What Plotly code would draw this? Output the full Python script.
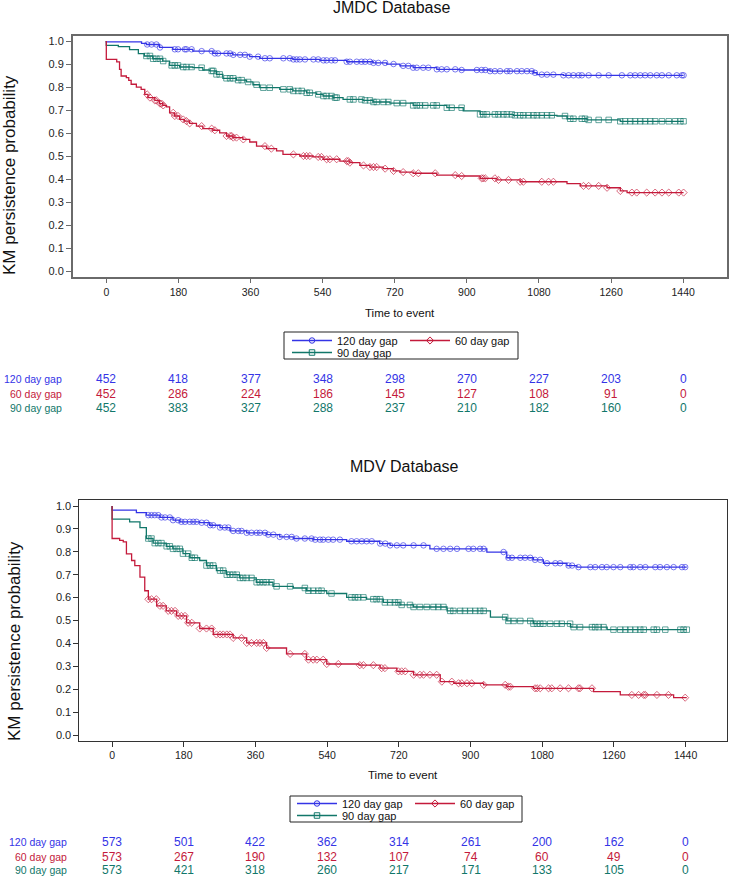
import numpy as np
import plotly.graph_objects as go

W, H = 733, 877

# ---------------- data ----------------
x_ticks = [0, 180, 360, 540, 720, 900, 1080, 1260, 1440]
y_ticks = [0.0, 0.1, 0.2, 0.3, 0.4, 0.5, 0.6, 0.7, 0.8, 0.9, 1.0]
series_names = ["120 day gap", "60 day gap", "90 day gap"]

# JMDC database: KM step curves (time in days, survival after step)
jmdc_120_t = [0, 0, 88, 100, 133, 166, 216, 266, 316, 358, 383, 466, 533, 600, 666, 700, 733, 766, 825, 883, 958, 1066, 1075, 1141, 1441]
jmdc_120_s = [1.0, 0.996, 0.990, 0.985, 0.972, 0.964, 0.956, 0.946, 0.940, 0.932, 0.925, 0.920, 0.916, 0.910, 0.905, 0.900, 0.892, 0.884, 0.877, 0.874, 0.869, 0.862, 0.854, 0.851, 0.851]
jmdc_120_cens = [102, 113, 125, 134, 171, 179, 196, 200, 213, 238, 263, 271, 279, 300, 309, 317, 334, 346, 358, 379, 396, 408, 442, 458, 467, 475, 483, 496, 517, 529, 542, 550, 562, 571, 600, 608, 625, 637, 646, 658, 667, 679, 696, 717,
                 741, 754, 766, 775, 791, 804, 825, 837, 850, 871, 887, 925, 937, 946, 958, 970, 983, 1000, 1008, 1025, 1037, 1050, 1062, 1070, 1087, 1100, 1116, 1141, 1154, 1166, 1179, 1187, 1204, 1229, 1254, 1287, 1308, 1320, 1333, 1345, 1358, 1374, 1387, 1404, 1424, 1437, 1441]

jmdc_60_t = [0, 0, 26, 33, 37, 50, 56, 62, 75, 87, 96, 104, 121, 133, 141, 150, 158, 170, 183, 195, 208, 225, 241, 266, 283, 300, 316, 341, 358, 375, 400, 425, 441, 483, 516, 541, 583, 608, 633, 658, 691, 716, 733, 766, 825, 875, 933, 975, 1033, 1150, 1183, 1250, 1283, 1300, 1441]
jmdc_60_s = [1.0, 0.92, 0.909, 0.877, 0.848, 0.841, 0.829, 0.812, 0.80, 0.79, 0.768, 0.754, 0.742, 0.728, 0.72, 0.714, 0.688, 0.674, 0.659, 0.652, 0.642, 0.63, 0.619, 0.612, 0.601, 0.587, 0.58, 0.572, 0.561, 0.543, 0.532, 0.522, 0.507, 0.50, 0.496, 0.486, 0.478, 0.471, 0.459, 0.452, 0.445, 0.435, 0.43, 0.425, 0.417, 0.413, 0.403, 0.396, 0.388, 0.38, 0.37, 0.362, 0.348, 0.341, 0.341]
jmdc_60_cens = [102, 109, 121, 125, 134, 138, 142, 167, 171, 179, 192, 200, 208, 238, 263, 271, 300, 309, 313, 317, 325, 342, 396, 412, 467, 492, 500, 508, 529, 537, 550, 558, 575, 600, 604, 608, 642, 658, 667, 675, 696, 717,
                741, 766, 779, 821, 871, 887, 937, 941, 946, 970, 979, 1004, 1033, 1041, 1087, 1104, 1116, 1191, 1204, 1229, 1250, 1283, 1312, 1324, 1349, 1370, 1387, 1404, 1429, 1441]

jmdc_90_t = [0, 0, 30, 58, 80, 95, 116, 141, 158, 183, 216, 241, 258, 275, 291, 325, 350, 366, 383, 433, 466, 500, 525, 541, 566, 591, 641, 666, 708, 766, 850, 891, 933, 1016, 1125, 1150, 1200, 1283, 1441]
jmdc_90_s = [1.0, 0.981, 0.976, 0.963, 0.945, 0.935, 0.923, 0.913, 0.894, 0.887, 0.884, 0.874, 0.87, 0.855, 0.838, 0.83, 0.822, 0.81, 0.797, 0.79, 0.783, 0.775, 0.768, 0.761, 0.754, 0.746, 0.742, 0.735, 0.73, 0.72, 0.71, 0.696, 0.681, 0.677, 0.674, 0.662, 0.657, 0.651, 0.651]
jmdc_90_cens = [100, 109, 117, 125, 134, 142, 163, 171, 179, 192, 200, 213, 238, 263, 267, 275, 283, 300, 309, 317, 329, 338, 354, 375, 392, 408, 442, 458, 467, 479, 488, 500, 508, 529, 542, 550, 562, 571, 575, 608, 617, 637, 646, 658, 667, 675, 692, 704, 725,
                741, 766, 775, 783, 796, 816, 825, 850, 862, 887, 933, 941, 950, 970, 979, 991, 1000, 1012, 1020, 1033, 1041, 1054, 1066, 1075, 1087, 1100, 1112, 1145, 1158, 1166, 1187, 1195, 1204, 1229, 1254, 1283, 1295, 1308, 1320, 1333, 1345, 1358, 1370, 1387, 1404, 1420, 1433, 1441]

# MDV database
mdv_120_t = [0, 0, 61, 86, 120, 153, 170, 220, 245, 271, 296, 338, 388, 421, 455, 505, 589, 672, 698, 798, 941, 991, 1058, 1083, 1142, 1167, 1443]
mdv_120_s = [1.0, 0.982, 0.971, 0.96, 0.95, 0.938, 0.931, 0.927, 0.916, 0.906, 0.891, 0.883, 0.875, 0.865, 0.858, 0.853, 0.846, 0.836, 0.828, 0.813, 0.799, 0.774, 0.765, 0.75, 0.74, 0.733, 0.733]
mdv_120_cens = [91, 99, 107, 116, 124, 133, 145, 153, 166, 174, 183, 195, 204, 212, 225, 237, 246, 254, 271, 283, 292, 304, 317, 325, 338, 350, 363, 371, 384, 392, 405, 421, 438, 451, 463, 484, 501, 510, 522, 530, 543, 555, 572, 601, 614, 627, 639, 652, 673, 686, 698, 715,
                731, 757, 782, 815, 832, 849, 866, 895, 907, 924, 933, 983, 995, 1004, 1025, 1037, 1050, 1062, 1075, 1092, 1113, 1125, 1146, 1155, 1171, 1201, 1213, 1230, 1242, 1259, 1276, 1301, 1309, 1326, 1339, 1364, 1376, 1393, 1410, 1431, 1439]

mdv_60_t = [0, 0, 19, 28, 36, 49, 57, 70, 82, 91, 112, 136, 162, 187, 220, 254, 304, 338, 388, 438, 488, 539, 620, 673, 715, 757, 824, 858, 933, 991, 1058, 1209, 1276, 1410, 1443]
mdv_60_s = [1.0, 0.858, 0.85, 0.843, 0.791, 0.762, 0.74, 0.689, 0.63, 0.593, 0.564, 0.542, 0.52, 0.49, 0.465, 0.439, 0.424, 0.402, 0.38, 0.354, 0.329, 0.31, 0.305, 0.292, 0.278, 0.263, 0.233, 0.226, 0.219, 0.211, 0.204, 0.189, 0.175, 0.163, 0.163]
mdv_60_cens = [91, 99, 111, 120, 128, 141, 149, 158, 166, 174, 183, 191, 200, 220, 237, 250, 262, 271, 279, 288, 296, 304, 325, 338, 350, 363, 371, 380, 388, 447, 484, 493, 505, 514, 530, 539, 568, 622, 631, 656,
               677, 685, 719, 727, 736, 757, 773, 782, 798, 815, 828, 853, 870, 878, 891, 903, 933, 987, 995, 1000, 1062, 1067, 1075, 1096, 1104, 1125, 1146, 1171, 1175, 1205, 1305, 1322, 1335, 1339, 1368, 1397, 1439]

mdv_90_t = [0, 0, 44, 70, 86, 103, 136, 153, 178, 195, 220, 237, 262, 287, 320, 362, 404, 455, 488, 539, 589, 639, 681, 723, 757, 841, 950, 991, 1058, 1151, 1243, 1443]
mdv_90_s = [1.0, 0.943, 0.931, 0.906, 0.858, 0.838, 0.824, 0.813, 0.792, 0.774, 0.762, 0.74, 0.718, 0.70, 0.686, 0.667, 0.649, 0.642, 0.63, 0.618, 0.601, 0.593, 0.579, 0.568, 0.559, 0.542, 0.515, 0.498, 0.486, 0.471, 0.46, 0.46]
mdv_90_cens = [91, 99, 107, 116, 124, 137, 145, 153, 162, 170, 178, 191, 200, 208, 237, 246, 254, 271, 279, 288, 296, 304, 313, 321, 329, 338, 350, 363, 371, 380, 388, 400, 413, 447, 484, 493, 505, 518, 526, 551, 601, 610, 618, 631, 656, 664, 673, 685, 698, 710, 719,
               727, 748, 757, 773, 790, 807, 819, 832, 849, 857, 874, 886, 899, 912, 924, 933, 987, 995, 1008, 1025, 1050, 1058, 1067, 1075, 1083, 1100, 1117, 1129, 1150, 1159, 1175, 1205, 1213, 1222, 1234, 1259, 1276, 1289, 1301, 1314, 1326, 1335, 1360, 1368, 1389, 1427, 1435, 1443]

# numbers at risk
jmdc_risk_120 = [452, 418, 377, 348, 298, 270, 227, 203, 0]
jmdc_risk_60 = [452, 286, 224, 186, 145, 127, 108, 91, 0]
jmdc_risk_90 = [452, 383, 327, 288, 237, 210, 182, 160, 0]
mdv_risk_120 = [573, 501, 422, 362, 314, 261, 200, 162, 0]
mdv_risk_60 = [573, 267, 190, 132, 107, 74, 60, 49, 0]
mdv_risk_90 = [573, 421, 318, 260, 217, 171, 133, 105, 0]

# ---------------- styles ----------------
FONT = "Liberation Sans, Arial, sans-serif"
COL = {"120 day gap": "#3434e6", "60 day gap": "#c41a3b", "90 day gap": "#11776a"}
SYM = {"120 day gap": "circle-open", "60 day gap": "diamond-open", "90 day gap": "square-open"}


def px_x(p):
    return p / W


def px_y(p):
    return 1 - p / H


def surv_at(t_arr, s_arr, times):
    t_arr = np.asarray(t_arr, float)
    s_arr = np.asarray(s_arr, float)
    idx = np.searchsorted(t_arr, np.asarray(times, float), side="right") - 1
    return s_arr[idx]


fig = go.Figure()

panels = [
    dict(xa="x", ya="y", curves=[("120 day gap", jmdc_120_t, jmdc_120_s, jmdc_120_cens),
                                  ("90 day gap", jmdc_90_t, jmdc_90_s, jmdc_90_cens),
                                  ("60 day gap", jmdc_60_t, jmdc_60_s, jmdc_60_cens)],
         legends=("legend", "legend2")),
    dict(xa="x2", ya="y2", curves=[("120 day gap", mdv_120_t, mdv_120_s, mdv_120_cens),
                                    ("90 day gap", mdv_90_t, mdv_90_s, mdv_90_cens),
                                    ("60 day gap", mdv_60_t, mdv_60_s, mdv_60_cens)],
         legends=("legend3", "legend4")),
]

for pnl in panels:
    for name, t, s, cens in pnl["curves"]:
        c = COL[name]
        fig.add_trace(go.Scatter(x=t, y=s, mode="lines", line=dict(color=c, width=1.3, shape="hv"),
                                 xaxis=pnl["xa"], yaxis=pnl["ya"], showlegend=False, hoverinfo="skip"))
        fig.add_trace(go.Scatter(x=cens, y=surv_at(t, s, cens), mode="markers",
                                 marker=dict(symbol=SYM[name], size=5.5, color=c, opacity=0.65,
                                             line=dict(width=1, color=c)),
                                 xaxis=pnl["xa"], yaxis=pnl["ya"], showlegend=False, hoverinfo="skip"))
    # legend entries (row 1: 120, 60 ; row 2: 90)
    for name in ["120 day gap", "60 day gap", "90 day gap"]:
        c = COL[name]
        lg = pnl["legends"][1] if name == "90 day gap" else pnl["legends"][0]
        fig.add_trace(go.Scatter(x=[None], y=[None], mode="lines+markers", name=name,
                                 line=dict(color=c, width=1.3),
                                 marker=dict(symbol=SYM[name], size=5.5, color=c, line=dict(width=1, color=c)),
                                 xaxis=pnl["xa"], yaxis=pnl["ya"], legend=lg, showlegend=True))

axis_common = dict(showgrid=False, zeroline=False, showline=True, mirror=True, ticks="outside", ticklen=5)
xfont = dict(family=FONT, size=10.5, color="#222")
yfont = dict(family=FONT, size=11, color="#222")

layout = dict(
    width=W, height=H, margin=dict(l=0, r=0, t=0, b=0, pad=0),
    paper_bgcolor="white", plot_bgcolor="white",
    font=dict(family=FONT, color="#222"),
    xaxis=dict(domain=[px_x(72.7), px_x(727)], range=[-83.9, 1549.4], tickvals=x_ticks, tickfont=xfont,
               anchor="y", linecolor="#6a6a6a", tickcolor="#6a6a6a", linewidth=1.5, **axis_common),
    yaxis=dict(domain=[px_y(276.7), px_y(35.7)], range=[-0.0248, 1.0232], tickvals=y_ticks, tickfont=yfont,
               tickformat=".1f", anchor="x", linecolor="#6a6a6a", tickcolor="#6a6a6a", linewidth=1.5, **axis_common),
    xaxis2=dict(domain=[px_x(79.4), px_x(727)], range=[-82.1, 1544], tickvals=x_ticks, tickfont=xfont,
                anchor="y2", linecolor="#333", tickcolor="#333", linewidth=1, **axis_common),
    yaxis2=dict(domain=[px_y(740.5), px_y(500)], range=[-0.024, 1.0262], tickvals=y_ticks, tickfont=yfont,
                tickformat=".1f", anchor="x2", linecolor="#333", tickcolor="#333", linewidth=1, **axis_common),
)

leg_common = dict(orientation="h", xanchor="left", yanchor="top", bgcolor="rgba(0,0,0,0)",
                  borderwidth=0, font=dict(family=FONT, size=11, color="#111"),
                  itemwidth=40, entrywidth=63, entrywidthmode="pixels", tracegroupgap=0,
                  itemclick=False, itemdoubleclick=False)
layout["legend"] = dict(x=px_x(287), y=px_y(326), **leg_common)
layout["legend2"] = dict(x=px_x(287), y=px_y(338), **leg_common)
layout["legend3"] = dict(x=px_x(292), y=px_y(789), **leg_common)
layout["legend4"] = dict(x=px_x(292), y=px_y(801), **leg_common)

fig.update_layout(**layout)

shapes = [
    dict(type="rect", xref="paper", yref="paper", x0=px_x(284), x1=px_x(518), y0=px_y(359), y1=px_y(332),
         line=dict(color="#222", width=1), fillcolor="rgba(0,0,0,0)", layer="below"),
    dict(type="rect", xref="paper", yref="paper", x0=px_x(290), x1=px_x(522), y0=px_y(822), y1=px_y(796),
         line=dict(color="#222", width=1), fillcolor="rgba(0,0,0,0)", layer="below"),
]
fig.update_layout(shapes=shapes)

ann = []
# titles
ann.append(dict(text="JMDC Database", x=px_x(391), y=px_y(7), xref="paper", yref="paper",
                showarrow=False, font=dict(family=FONT, size=16, color="#111"), xanchor="center", yanchor="middle"))
ann.append(dict(text="MDV Database", x=px_x(404), y=px_y(466), xref="paper", yref="paper",
                showarrow=False, font=dict(family=FONT, size=16, color="#111"), xanchor="center", yanchor="middle"))
# axis titles
for yc, xc in [(175, 9), (641, 14)]:
    ann.append(dict(text="KM persistence probability", x=px_x(xc), y=px_y(yc), xref="paper", yref="paper",
                    textangle=-90, showarrow=False, font=dict(family=FONT, size=17, color="#111"),
                    xanchor="center", yanchor="middle"))
for yc, xc in [(313, 400), (775, 403)]:
    ann.append(dict(text="Time to event", x=px_x(xc), y=px_y(yc), xref="paper", yref="paper", showarrow=False,
                    font=dict(family=FONT, size=11.5, color="#111"), xanchor="center", yanchor="middle"))

# numbers at risk tables
tables = [
    ("x", 64, [379, 394, 408], [("120 day gap", jmdc_risk_120), ("60 day gap", jmdc_risk_60), ("90 day gap", jmdc_risk_90)]),
    ("x2", 69, [842, 857, 870], [("120 day gap", mdv_risk_120), ("60 day gap", mdv_risk_60), ("90 day gap", mdv_risk_90)]),
]
for xa, lab_right, rows_y, rows in tables:
    for (name, vals), yy in zip(rows, rows_y):
        c = COL[name]
        ann.append(dict(text=name, x=px_x(lab_right), y=px_y(yy), xref="paper", yref="paper",
                        showarrow=False, xanchor="right", yanchor="middle",
                        font=dict(family=FONT, size=10.5, color=c)))
        for xv, v in zip(x_ticks, vals):
            ann.append(dict(text=str(v), x=xv, y=px_y(yy), xref=xa, yref="paper", showarrow=False,
                            xanchor="center", yanchor="middle", font=dict(family=FONT, size=12, color=c)))

fig.update_layout(annotations=ann)

fig.write_html("out.html")
